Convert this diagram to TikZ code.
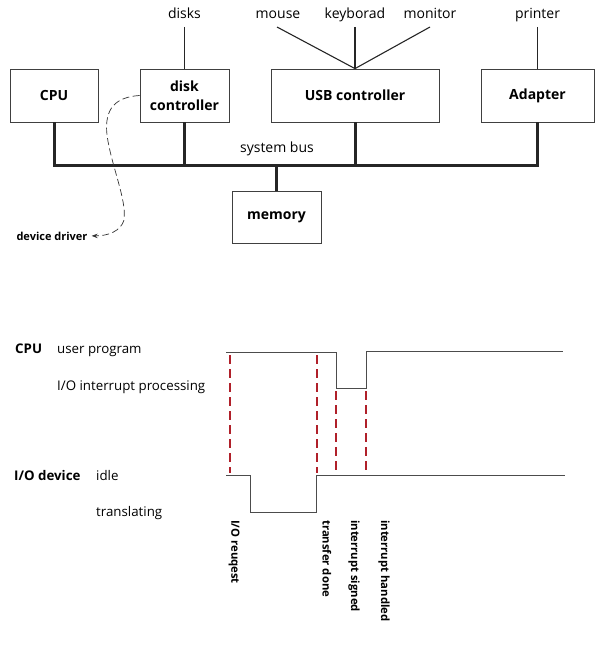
\documentclass[tikz,border=0pt]{standalone}
\usepackage{fontspec}
\setmainfont{Open Sans}
\usetikzlibrary{arrows.meta}
\definecolor{dred}{HTML}{B0202A}
\tikzset{
  box/.style={draw=black!75, line width=0.8pt, font=\bfseries\fontsize{14}{19.5}\selectfont, align=center, inner sep=0pt},
  lbl/.style={font=\fontsize{14}{16}\selectfont, inner sep=0pt, anchor=base},
  tlbl/.style={font=\fontsize{13.3}{15}\selectfont, inner sep=0pt, anchor=base west},
  blbl/.style={font=\bfseries\fontsize{13.3}{15}\selectfont, inner sep=0pt, anchor=base west},
  rlbl/.style={font=\bfseries\fontsize{11.3}{13}\selectfont, inner sep=0pt, rotate=-90, anchor=west},
  bus/.style={line width=3pt, black!85},
  wire/.style={line width=1.1pt, black!85},
  sig/.style={line width=0.9pt, black!70},
  redmark/.style={dred, line width=1.6pt, dash pattern=on 9pt off 5pt},
}
\begin{document}
\begin{tikzpicture}[x=1pt,y=-1pt]
\useasboundingbox (0,0) rectangle (596,650);
% boxes
\node[box, minimum width=88pt, minimum height=53pt] (cpu) at (54,95.5) {CPU};
\node[box, minimum width=89pt, minimum height=53pt] (disk) at (184.5,95.5) {disk\\controller};
\node[box, minimum width=168pt, minimum height=53pt] (usb) at (355,95.5) {USB controller};
\node[box, minimum width=113pt, minimum height=53pt] (adp) at (537.5,95.5) {Adapter};
\node[box, minimum width=89pt, minimum height=52pt] (mem) at (276.5,217) {memory};
% bus
\coordinate (bm) at (276.5,165);
\coordinate (bl) at (cpu.south |- bm);
\coordinate (br) at (adp.south |- bm);
\draw[bus] (cpu.south) -- (bl) -- (br) -- (adp.south);
\draw[bus] (disk.south) -- (disk.south |- bm);
\draw[bus] (usb.south) -- (usb.south |- bm);
\draw[bus] (bm) -- (mem.north);
\node[lbl] (sbus) at (277,153) {system bus};
% top labels
\node[lbl] (disks) at (184.5,18.5) {disks};
\node[lbl] (mouse) at (278,18.5) {mouse};
\node[lbl] (kbd) at (355,18.5) {keyborad};
\node[lbl] (mon) at (430,18.5) {monitor};
\node[lbl] (prn) at (537.5,18.5) {printer};
\coordinate (dtop) at (184.5,27);
\coordinate (mtop) at (277,27);
\coordinate (ktop) at (355,27);
\coordinate (ntop) at (430,27);
\coordinate (ptop) at (537.5,27);
\draw[wire] (dtop) -- (disk.north);
\draw[wire] (mtop) -- (usb.north);
\draw[wire] (ktop) -- (usb.north);
\draw[wire] (ntop) -- (usb.north);
\draw[wire] (ptop) -- (adp.north);
% device driver
\node[font=\bfseries\fontsize{11}{13}\selectfont, inner sep=0pt, anchor=base] (dd) at (52,240) {device driver};
\draw[black!80, line width=0.7pt, dash pattern=on 7pt off 3.5pt, -{Stealth[length=6pt,width=4.5pt]}]
  (disk.west) .. controls (116,97) and (104,108) .. (107,135)
  .. controls (111,165) and (127,200) .. (124,220)
  .. controls (121,231) and (108,236) .. ([xshift=4pt]dd.east);
% timing diagram labels
\node[blbl] (tcpu) at (15,353) {CPU};
\node[tlbl] (up) at (57,353) {user program};
\node[tlbl] (iop) at (57,390) {I/O interrupt processing};
\node[blbl] (tio) at (14,480) {I/O device};
\node[tlbl] (idle) at (96,480) {idle};
\node[tlbl] (tr) at (96,516) {translating};
% CPU signal
\coordinate (c0) at (226,352);
\coordinate (c1) at (336,352);
\coordinate (c2) at (336,388);
\coordinate (c3) at (366,388);
\coordinate (c4) at (366,351);
\coordinate (c5) at (563,351);
\draw[sig] (c0) -- (c1) -- (c2) -- (c3) -- (c4) -- (c5);
% IO signal
\coordinate (d0) at (226,475);
\coordinate (d1) at (250,475);
\coordinate (d2) at (250,512);
\coordinate (d3) at (316,512);
\coordinate (d4) at (316,475);
\coordinate (d5) at (565,475);
\draw[sig] (d0) -- (d1) -- (d2) -- (d3) -- (d4) -- (d5);
% red markers
\coordinate (m1a) at (230,355); \coordinate (m1b) at (230,473);
\coordinate (m2a) at (317,355); \coordinate (m2b) at (317,473);
\coordinate (m3a) at (336,391); \coordinate (m3b) at (336,473);
\coordinate (m4a) at (366,391); \coordinate (m4b) at (366,473);
\draw[redmark] (m1a) -- (m1b);
\draw[redmark] (m2a) -- (m2b);
\draw[redmark] (m3a) -- (m3b);
\draw[redmark] (m4a) -- (m4b);
% event labels
\node[rlbl] (ev1) at (234,520) {I/O reuqest};
\node[rlbl] (ev2) at (327,520) {transfer done};
\node[rlbl] (ev3) at (354,520) {interrupt signed};
\node[rlbl] (ev4) at (384,520) {interrupt handled};
\end{tikzpicture}
\end{document}
